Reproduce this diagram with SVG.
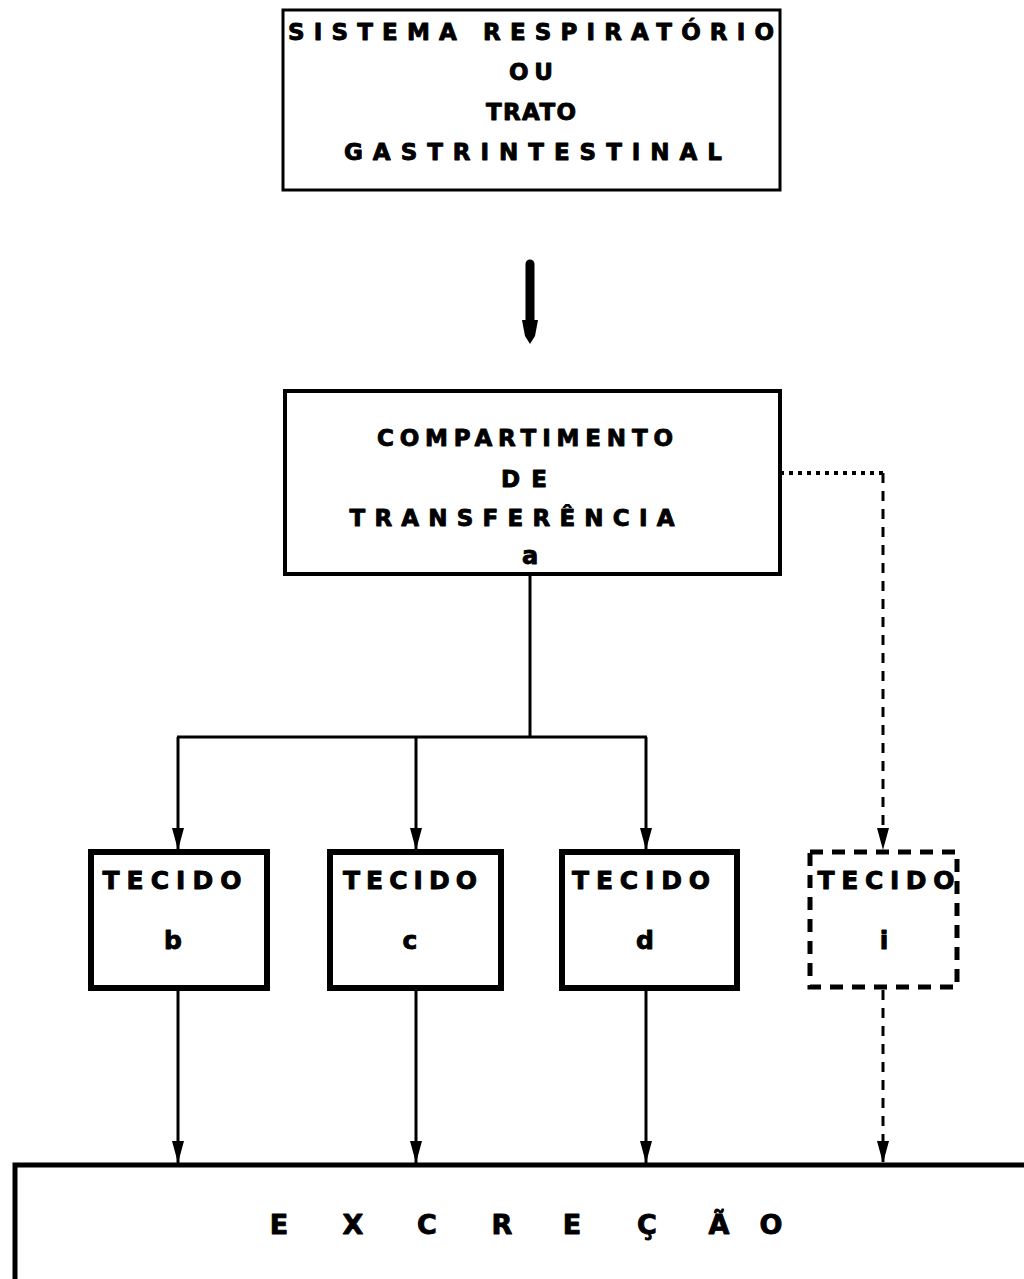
<svg xmlns="http://www.w3.org/2000/svg" width="1024" height="1279" viewBox="0 0 1024 1279">
<style>
.t{font-family:"DejaVu Sans","Liberation Sans",sans-serif;font-weight:bold;fill:#000;stroke:#000;stroke-width:0.9;stroke-linejoin:round;text-anchor:middle}
.box{fill:#fff;stroke:#000}
.ln{stroke:#000;stroke-width:3;fill:none}
</style>
<defs>
<marker id="ah" viewBox="0 0 22 12" refX="22" refY="6" markerWidth="22" markerHeight="12" markerUnits="userSpaceOnUse" orient="auto">
<path d="M0,0 L22,6 L0,12 Z" fill="#000"/>
</marker>
</defs>
<rect width="1024" height="1279" fill="#fff"/>
<g id="connectors">
<line x1="530" y1="575" x2="530" y2="737" class="ln"/>
<line x1="177" y1="737" x2="647" y2="737" class="ln"/>
<line x1="178" y1="737" x2="178" y2="850" class="ln" marker-end="url(#ah)"/>
<line x1="416" y1="737" x2="416" y2="850" class="ln" marker-end="url(#ah)"/>
<line x1="646" y1="737" x2="646" y2="850" class="ln" marker-end="url(#ah)"/>
<line x1="780" y1="473" x2="883" y2="473" stroke="#000" stroke-width="4" stroke-dasharray="4 5"/>
<line x1="883" y1="473" x2="883" y2="850" stroke="#000" stroke-width="3" stroke-dasharray="10 8" marker-end="url(#ah)"/>
<line x1="178" y1="990" x2="178" y2="1163" class="ln" marker-end="url(#ah)"/>
<line x1="416" y1="990" x2="416" y2="1163" class="ln" marker-end="url(#ah)"/>
<line x1="646" y1="990" x2="646" y2="1163" class="ln" marker-end="url(#ah)"/>
<line x1="883" y1="990" x2="883" y2="1163" stroke="#000" stroke-width="3" stroke-dasharray="10 8" marker-end="url(#ah)"/>
<g id="bigarrow">
<line x1="530" y1="264" x2="530" y2="326" stroke="#000" stroke-width="9" stroke-linecap="round"/>
<path d="M522,320 L538,320 L535,336 L530,344 L525,336 Z" fill="#000"/>
</g>
</g>
<g id="source">
<rect x="283" y="10" width="497" height="180" class="box" stroke-width="3"/>
<text class="t" x="531" y="40" font-size="23" textLength="486" lengthAdjust="spacing">SISTEMA RESPIRATÓRIO</text>
<text class="t" x="531" y="80" font-size="23" textLength="44" lengthAdjust="spacing">OU</text>
<text class="t" x="531" y="120" font-size="23" textLength="90" lengthAdjust="spacing">TRATO</text>
<text class="t" x="533" y="160" font-size="23" textLength="378" lengthAdjust="spacing">GASTRINTESTINAL</text>
</g>
<g id="transfer">
<rect x="285" y="391" width="495" height="183" class="box" stroke-width="4"/>
<text class="t" x="525" y="446" font-size="23" textLength="296" lengthAdjust="spacing">COMPARTIMENTO</text>
<text class="t" x="524" y="487" font-size="23" textLength="46" lengthAdjust="spacing">DE</text>
<text class="t" x="512" y="526" font-size="23" textLength="325" lengthAdjust="spacing">TRANSFERÊNCIA</text>
<text class="t" x="530" y="564" font-size="24">a</text>
</g>
<g id="tecido-b">
<rect x="91" y="852" width="176" height="136" class="box" stroke-width="6"/>
<text class="t" x="172" y="889" font-size="25" textLength="139" lengthAdjust="spacing">TECIDO</text>
<text class="t" x="173" y="949" font-size="25">b</text>
</g>
<g id="tecido-c">
<rect x="330" y="852" width="171" height="136" class="box" stroke-width="6"/>
<text class="t" x="410" y="889" font-size="25" textLength="134" lengthAdjust="spacing">TECIDO</text>
<text class="t" x="410" y="949" font-size="25">c</text>
</g>
<g id="tecido-d">
<rect x="562" y="852" width="175" height="136" class="box" stroke-width="6"/>
<text class="t" x="641" y="889" font-size="25" textLength="138" lengthAdjust="spacing">TECIDO</text>
<text class="t" x="645" y="949" font-size="25">d</text>
</g>
<g id="tecido-i">
<rect x="810" y="852" width="147" height="135" fill="#fff" stroke="#000" stroke-width="5" stroke-dasharray="13 9"/>
<text class="t" x="886" y="889" font-size="25" textLength="137" lengthAdjust="spacing">TECIDO</text>
<text class="t" x="884" y="949" font-size="25">i</text>
</g>
<g id="excrecao">
<path d="M15,1290 L15,1165 L1030,1165" fill="#fff" stroke="#000" stroke-width="5"/>
<text class="t" font-size="27" y="1234" x="279 353 427 502 572 647 719 771">EXCREÇÃO</text>
</g>
</svg>
